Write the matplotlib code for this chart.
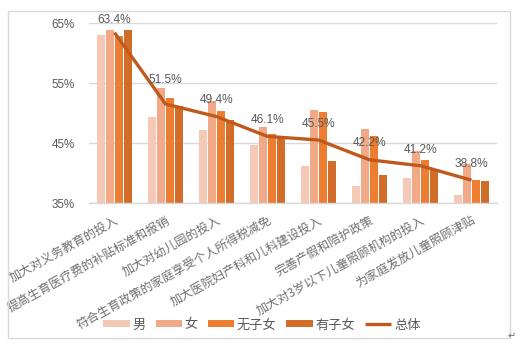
import matplotlib
matplotlib.use("Agg")
import matplotlib.pyplot as plt
from matplotlib.patches import Rectangle
import numpy as np

plt.rcParams['font.family'] = ['Noto Sans CJK SC', 'DejaVu Sans']

categories = [
    "加大对义务教育的投入",
    "提高生育医疗费的补贴标准和报销",
    "加大对幼儿园的投入",
    "符合生育政策的家庭享受个人所得税减免",
    "加大医院妇产科和儿科建设投入",
    "完善产假和陪护政策",
    "加大对3岁以下儿童照顾机构的投入",
    "为家庭发放儿童照顾津贴",
]
male = [63.0, 49.3, 47.2, 44.7, 41.2, 37.8, 39.2, 36.4]
female = [63.9, 54.2, 52.0, 47.6, 50.5, 47.4, 43.7, 41.5]
childless = [62.9, 52.5, 50.4, 46.5, 50.2, 46.2, 42.2, 38.9]
with_children = [63.9, 51.1, 48.8, 46.1, 42.0, 39.6, 40.6, 38.7]
overall = [63.4, 51.5, 49.4, 46.1, 45.5, 42.2, 41.2, 38.8]
series_names = ["男", "女", "无子女", "有子女"]
line_name = "总体"
yticks = [35, 45, 55, 65]

bar_colors = ["#F6C8B6", "#F2A988", "#ED7D31", "#D26C29"]
line_color = "#BF5A1C"
text_color = "#595959"
grid_color = "#D9D9D9"
label_offsets = [9, 17, 12, 11.5, 11.5, 12, 11.5, 11.5]

W, H = 522, 346
fig = plt.figure(figsize=(W / 100, H / 100), dpi=100)

# outer frame
fig.patches.append(Rectangle((8 / W, 1 - 338 / H), (510 - 8) / W, (338 - 11) / H,
                             transform=fig.transFigure, fill=False,
                             edgecolor="#D9D9D9", linewidth=1.0))

left, right, top, bottom = 89, 497, 23, 203
ax = fig.add_axes([left / W, 1 - bottom / H, (right - left) / W, (bottom - top) / H])

x = np.arange(len(categories))
slot = 0.176
bw = 0.148
for i, (vals, name, col) in enumerate(zip([male, female, childless, with_children],
                                          series_names, bar_colors)):
    ax.bar(x + (i - 1.5) * slot, np.array(vals) - yticks[0], bottom=yticks[0],
           width=bw, color=col, label=name, zorder=2)

ax.plot(x, overall, color=line_color, linewidth=2.4, label=line_name, zorder=3,
        solid_capstyle="butt")
for xi, v, off in zip(x, overall, label_offsets):
    ax.annotate(f"{v:.1f}%", (xi, v), xytext=(0, off), textcoords="offset points",
                ha="center", va="center", fontsize=8.6, color=text_color,
                family="Liberation Sans", zorder=4)

ax.set_xlim(-0.5, len(categories) - 0.5)
ax.set_ylim(yticks[0], yticks[-1])
ax.set_yticks(yticks)
ax.set_yticklabels([f"{t}%" for t in yticks], fontsize=8.4, color=text_color,
                   family="Liberation Sans")
ax.yaxis.grid(True, color=grid_color, linewidth=1.0, zorder=0)
ax.set_axisbelow(True)
ax.set_xticks(x)
ax.set_xticklabels(categories, rotation=29, ha="right", rotation_mode="anchor",
                   fontsize=8.8, color="#6F6F6F")
ax.tick_params(axis="both", length=0)
ax.tick_params(axis="x", pad=8)
ax.tick_params(axis="y", pad=10)
for s in ["top", "right", "left"]:
    ax.spines[s].set_visible(False)
ax.spines["bottom"].set_color(grid_color)
ax.spines["bottom"].set_linewidth(1.0)

handles, labels = ax.get_legend_handles_labels()
order = [1, 2, 3, 4, 0]
leg = fig.legend([handles[i] for i in order], [labels[i] for i in order],
                 loc="center", bbox_to_anchor=(262 / W, 1 - 325 / H), ncol=5,
                 frameon=False, fontsize=9.5, handlelength=2.0, handleheight=0.45,
                 handletextpad=0.2, columnspacing=0.75, labelcolor=text_color)

fig.text(512 / W, 1 - 336 / H, "↵", fontsize=7, color="#707070",
         ha="center", va="center", family="DejaVu Sans")

fig.savefig("out.png", dpi=100)
